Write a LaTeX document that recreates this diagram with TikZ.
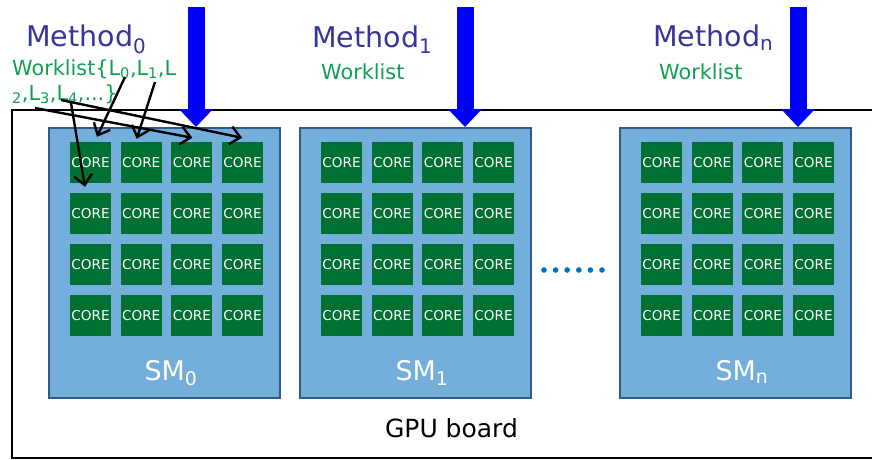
\documentclass[tikz,border=0pt]{standalone}
\usepackage{fontspec}
\setmainfont{DejaVu Sans}
\usetikzlibrary{arrows.meta,calc}
\definecolor{smblue}{HTML}{74AFDB}
\definecolor{smedge}{HTML}{2F5B8C}
\definecolor{coregreen}{HTML}{007033}
\definecolor{methodink}{HTML}{35359A}
\definecolor{listgreen}{HTML}{10A050}
\definecolor{dotblue}{HTML}{0070C0}
\tikzset{
  smbox/.style={draw=smedge, line width=2pt, fill=smblue, minimum width=231pt, minimum height=270pt, inner sep=0pt},
  corebox/.style={fill=coregreen, minimum size=41pt, inner sep=0pt, text=white, font=\fontsize{13.6}{14}\selectfont},
  smlbl/.style={anchor=base, inner sep=0pt, text=white, font=\fontsize{27}{29}\selectfont},
  methodlbl/.style={anchor=base west, inner sep=0pt, text=methodink, font=\fontsize{28.5}{30}\selectfont},
  listlbl/.style={anchor=base west, inner sep=0pt, text=listgreen, font=\fontsize{20.8}{25}\selectfont},
  feed/.style={draw=blue, line width=17pt, -{Triangle[width=34pt,length=18pt,line width=0pt]}},
  pick/.style={draw=black, line width=2.4pt, -{Straight Barb[length=10pt,width=18pt]}},
}
\begin{document}
\begin{tikzpicture}[x=1pt,y=-1pt]
\useasboundingbox (0,0) rectangle (872,460);
\draw[line width=1.6pt] (872,110) -- (12,110) -- (12,458) -- (872,458);
\node[smbox] (sm0) at (164,263) {};
\node[smbox] (sm1) at (415,263) {};
\node[smbox] (smn) at (735,263) {};
\foreach \s/\x in {0/90.5,1/341.5,n/661.5}
  \foreach \r in {1,...,4}
    \foreach \c in {1,...,4}
      \node[corebox] (c\s-\r-\c) at ({\x+(\c-1)*50.7},{162.5+(\r-1)*51}) {CORE};
\node[smlbl] (lsm0) at (171,380) {SM\textsubscript{0}};
\node[smlbl] (lsm1) at (422,380) {SM\textsubscript{1}};
\node[smlbl] (lsmn) at (742,380) {SM\textsubscript{n}};
\foreach \i in {0,...,5}
  \fill[dotblue] ({544+\i*11.6},270) circle (2.8pt);
\node[anchor=base, inner sep=0pt, font=\fontsize{25}{27}\selectfont] (gpu) at (451.5,437) {GPU board};
\node[methodlbl] (m0) at (26,47) {Method\textsubscript{0}};
\node[methodlbl] (m1) at (312,48) {Method\textsubscript{1}};
\node[methodlbl] (mn) at (653,47) {Method\textsubscript{n}};
\node[listlbl] (w0a) at (12,75) {Worklist\{L\textsubscript{0},L\textsubscript{1},L};
\node[listlbl] (w0b) at (12,100) {\textsubscript{2},L\textsubscript{3},L\textsubscript{4},...\}};
\node[listlbl] (w1) at (321,79) {Worklist};
\node[listlbl] (wn) at (659,79) {Worklist};
\coordinate (f0) at (196,7);
\coordinate (f1) at (465,7);
\coordinate (fn) at (798,7);
\draw[feed] (f0) -- (f0 |- sm0.north);
\draw[feed] (f1) -- (f1 |- sm1.north);
\draw[feed] (fn) -- (fn |- smn.north);
\coordinate (l0) at (125,77);
\coordinate (l1) at (155,82);
\coordinate (l2) at (35,108);
\coordinate (l4) at (61,100);
\coordinate (l4b) at (71,103);
\draw[pick] (l0) -- ($(c0-1-1.north)+(6.5,-5)$);
\draw[pick] (l1) -- ($(c0-1-2.north)+(-4.5,-3)$);
\draw[pick] (l2) -- ($(c0-1-3.north)+(0.5,-4)$);
\draw[pick] (l4) -- ($(c0-1-4.north)+(-0.5,-4)$);
\draw[pick] (l4b) -- ($(c0-2-1.north)+(-5.5,-6)$);
\end{tikzpicture}
\end{document}
